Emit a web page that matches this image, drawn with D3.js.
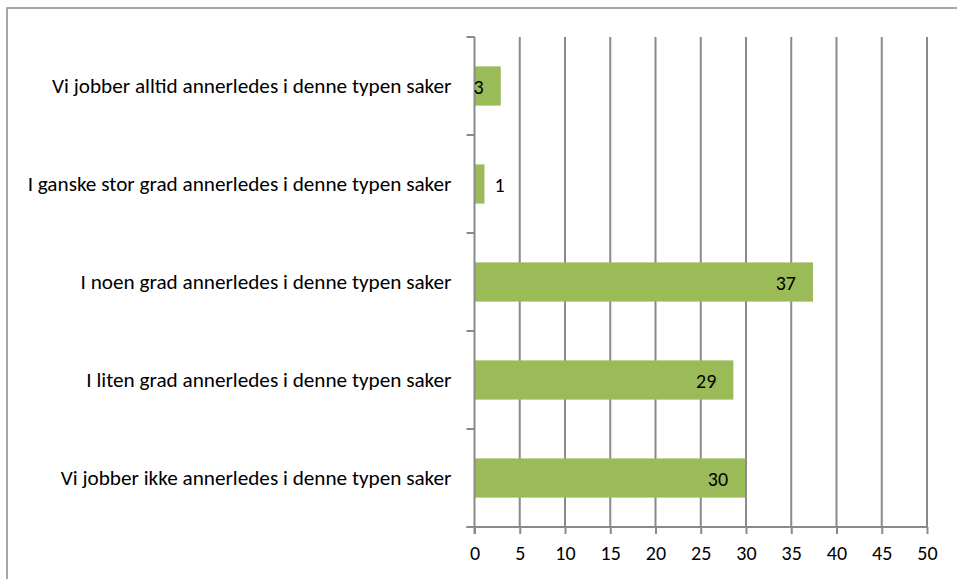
<!DOCTYPE html>
<html><head><meta charset="utf-8">
<script src="https://cdn.jsdelivr.net/npm/d3@7"></script>
<style>
html,body{margin:0;padding:0;background:#fff;}
svg{display:block;}
text{font-family:Calibri,Carlito,"Open Sans","Liberation Sans",sans-serif;fill:#000;}
</style></head>
<body>
<svg id="chart" width="957" height="579"></svg>
<script>
const categories = [
  "Vi jobber alltid annerledes i denne typen saker",
  "I ganske stor grad annerledes i denne typen saker",
  "I noen grad annerledes i denne typen saker",
  "I liten grad annerledes i denne typen saker",
  "Vi jobber ikke annerledes i denne typen saker"
];
const values = [2.9, 1.1, 37.4, 28.6, 29.9];
const xTicks = [0, 5, 10, 15, 20, 25, 30, 35, 40, 45, 50];

(function () {
const svg = d3.select("#chart");
const W = 957, H = 579;
const pL = 474.5, pR = 927, pT = 37, pB = 527;
const gray = "#8a8a8a";
const fs = 21.2, fsNum = 20;

svg.append("rect").attr("x", 7).attr("y", 8).attr("width", W).attr("height", H)
  .attr("fill", "#fff").attr("stroke", gray).attr("stroke-width", 1.5);

const x = d3.scaleLinear().domain([0, 50]).range([pL, pR]);
const y = d3.scaleBand().domain(categories).range([pT, pB])
  .paddingInner(0.6).paddingOuter(0.3);

// gridlines
svg.append("g").selectAll("line").data(xTicks.slice(1)).join("line")
  .attr("x1", d => x(d)).attr("x2", d => x(d))
  .attr("y1", pT).attr("y2", pB)
  .attr("stroke", gray).attr("stroke-width", 2);

// bars
svg.append("g").selectAll("rect").data(values).join("rect")
  .attr("x", x(0))
  .attr("y", (d, i) => y(categories[i]))
  .attr("width", d => x(d) - x(0))
  .attr("height", y.bandwidth())
  .attr("fill", "#9BBB59");

// x axis
const xAxis = svg.append("g").attr("transform", `translate(0,${pB})`)
  .call(d3.axisBottom(x).tickValues(xTicks).tickSize(7).tickSizeOuter(0).tickPadding(12));
xAxis.select(".domain").attr("stroke", gray).attr("stroke-width", 2)
  .attr("d", `M${pL - 8},0H${pR}`);
xAxis.selectAll(".tick line").attr("stroke", gray).attr("stroke-width", 2);
xAxis.selectAll(".tick text").attr("font-size", fsNum).attr("fill", "#000");
xAxis.attr("font-family", null).attr("font-size", null);

// y axis
const bandEdges = categories.map(c => y(c) - y.step() * 0.3).concat([pB]);
const yAxisG = svg.append("g");
yAxisG.append("line").attr("x1", pL).attr("x2", pL).attr("y1", pT).attr("y2", pB + 7)
  .attr("stroke", gray).attr("stroke-width", 2);
yAxisG.selectAll("line.tk").data(bandEdges).join("line").attr("class", "tk")
  .attr("x1", pL - 8).attr("x2", pL).attr("y1", d => d).attr("y2", d => d)
  .attr("stroke", gray).attr("stroke-width", 2);
yAxisG.selectAll("text").data(categories).join("text")
  .attr("x", pL - 23)
  .attr("y", d => y(d) + y.bandwidth() / 2 + 7)
  .attr("text-anchor", "end").attr("font-size", fs)
  .text(d => d);

// data labels
svg.append("g").selectAll("text").data(values).join("text")
  .attr("x", d => d < 2 ? x(d) + 10 : x(d) - 17)
  .attr("y", (d, i) => y(categories[i]) + y.bandwidth() / 2 + 7.5)
  .attr("text-anchor", d => d < 2 ? "start" : "end")
  .attr("font-size", fsNum)
  .text(d => d3.format(".0f")(d));
})();
</script>
</body></html>
